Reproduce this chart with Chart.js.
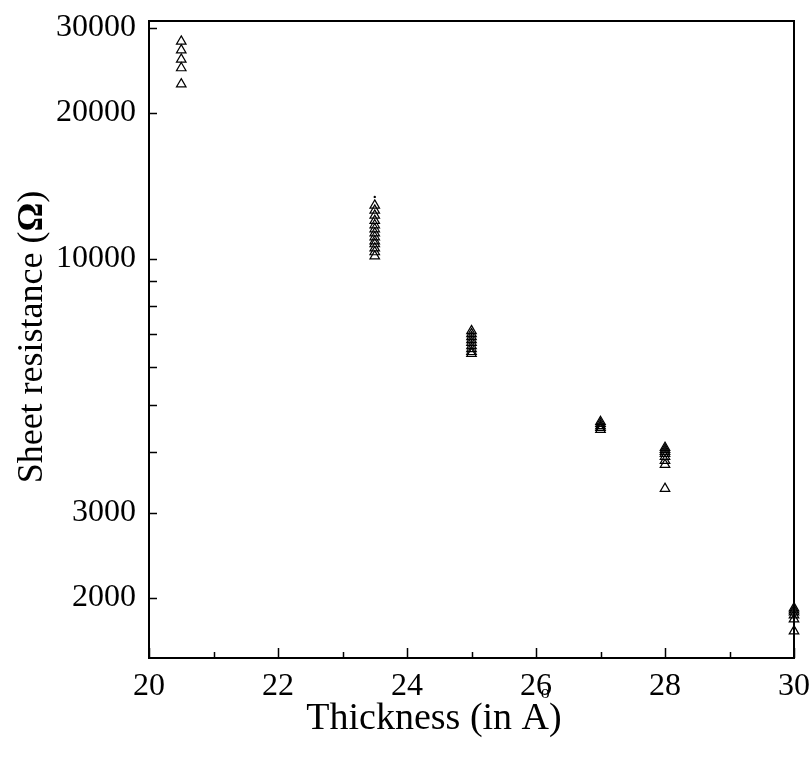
<!DOCTYPE html>
<html>
<head>
<meta charset="utf-8">
<script src="https://cdn.jsdelivr.net/npm/chart.js@4"></script>
<style>
html, body { margin: 0; padding: 0; background: #fff; }
</style>
</head>
<body>
<canvas id="chart" width="811" height="764"></canvas>
<script>
'use strict'

//두께 그룹 (A)
const thickness = [20.5, 23.5, 25, 27, 28, 30];
//두께별 면저항 측정값
const res205 = [28100, 26960, 25800, 24760, 22940];
const res235 = [12900, 12600, 12300, 12000, 11750, 11530, 11310, 11100, 10890, 10740, 10530, 10340, 10140];
const res25 = [7110, 7010, 6910, 6810, 6720, 6620, 6530, 6440, 6380];
const res27 = [4620, 4575, 4530, 4490, 4450];
const res28 = [4086, 4046, 4008, 3970, 3914, 3840, 3768, 3363];
const res30 = [1907, 1889, 1872, 1845, 1810, 1710];
//23.5 위의 점 하나
const dotX = [23.5];
const dotY = [13430];
//눈금
const xTicks = [20, 22, 24, 26, 28, 30];
const xMinor = [21, 23, 25, 27, 29];
const yTicks = [2000, 3000, 10000, 20000, 30000];
const yMinor = [4000, 5000, 6000, 7000, 8000, 9000];

const serif = '"Liberation Serif", "DejaVu Serif", serif';

// =====================================================================================================
const groups = [res205, res235, res25, res27, res28, res30];
let points = [];
groups.forEach((arr, i) => {
	arr.forEach((v) => {
		points.push({ x: thickness[i], y: v });
	});
});
let dots = dotX.map((x, i) => ({ x: x, y: dotY[i] }));

//테두리, 안쪽 눈금, 축 제목
const framePlugin = {
	id: 'frame',
	afterDraw(chart) {
		const ctx = chart.ctx;
		const a = chart.chartArea;
		const xs = chart.scales.x;
		const ys = chart.scales.y;
		ctx.save();
		ctx.strokeStyle = '#000';
		ctx.lineWidth = 1.5;
		ctx.beginPath();
		xTicks.forEach((v) => {
			const px = Math.round(xs.getPixelForValue(v)) + 0.5;
			ctx.moveTo(px, a.bottom);
			ctx.lineTo(px, a.bottom - 10);
		});
		xMinor.forEach((v) => {
			const px = Math.round(xs.getPixelForValue(v)) + 0.5;
			ctx.moveTo(px, a.bottom);
			ctx.lineTo(px, a.bottom - 6);
		});
		yTicks.concat(yMinor).forEach((v) => {
			const py = Math.round(ys.getPixelForValue(v)) + 0.5;
			ctx.moveTo(a.left, py);
			ctx.lineTo(a.left + 8, py);
		});
		ctx.stroke();
		ctx.lineWidth = 2;
		ctx.strokeRect(a.left, a.top, a.right - a.left, a.bottom - a.top);

		//x 제목
		ctx.fillStyle = '#000';
		ctx.font = '38px ' + serif;
		ctx.textBaseline = 'alphabetic';
		ctx.textAlign = 'left';
		const xTitle = 'Thickness (in A)';
		const w = ctx.measureText(xTitle).width;
		const x0 = 434 - w / 2;
		ctx.fillText(xTitle, x0, 729);
		const pre = ctx.measureText('Thickness (in ').width;
		const aw = ctx.measureText('A').width;
		ctx.font = '18px ' + serif;
		ctx.textAlign = 'center';
		ctx.fillText('o', x0 + pre + aw / 2 + 10, 698);

		//y 제목
		ctx.translate(42, 337);
		ctx.rotate(-Math.PI / 2);
		const p1 = 'Sheet resistance (';
		const p2 = '\u03A9';
		const p3 = ')';
		ctx.textAlign = 'left';
		ctx.font = '36px ' + serif;
		const w1 = ctx.measureText(p1).width;
		const w3 = ctx.measureText(p3).width;
		ctx.font = 'bold 36px ' + serif;
		const w2 = ctx.measureText(p2).width;
		let sx = -(w1 + w2 + w3) / 2;
		ctx.font = '36px ' + serif;
		ctx.fillText(p1, sx, 0);
		ctx.font = 'bold 36px ' + serif;
		ctx.fillText(p2, sx + w1, 0);
		ctx.font = '36px ' + serif;
		ctx.fillText(p3, sx + w1 + w2, 0);
		ctx.restore();
	}
};

new Chart(document.getElementById('chart'), {
	type: 'scatter',
	data: {
		datasets: [{
			data: points,
			pointStyle: 'triangle',
			pointRadius: 5.5,
			borderColor: '#000',
			backgroundColor: 'rgba(255,255,255,0)',
			borderWidth: 1.2
		}, {
			data: dots,
			pointStyle: 'circle',
			pointRadius: 1.2,
			borderColor: '#000',
			backgroundColor: '#000',
			borderWidth: 0
		}]
	},
	options: {
		responsive: false,
		animation: false,
		devicePixelRatio: 1,
		clip: false,
		layout: { padding: { left: 0, top: 21, right: 17, bottom: 0 } },
		plugins: {
			legend: { display: false },
			tooltip: { enabled: false }
		},
		scales: {
			x: {
				type: 'linear',
				min: 20,
				max: 30,
				afterBuildTicks: (scale) => { scale.ticks = xTicks.map((v) => ({ value: v })); },
				afterFit: (scale) => {
					scale.height = 106;
					scale.paddingLeft = 0;
					scale.paddingRight = 0;
				},
				grid: { display: false, drawTicks: false },
				border: { display: false },
				ticks: {
					color: '#000',
					font: { family: serif, size: 32 },
					padding: 9,
					maxRotation: 0
				}
			},
			y: {
				type: 'logarithmic',
				min: 1505,
				max: 30950,
				afterBuildTicks: (scale) => { scale.ticks = yTicks.map((v) => ({ value: v })); },
				afterFit: (scale) => {
					scale.width = 149;
					scale.paddingTop = 0;
					scale.paddingBottom = 0;
				},
				grid: { display: false, drawTicks: false },
				border: { display: false },
				ticks: {
					color: '#000',
					font: { family: serif, size: 32 },
					padding: 13,
					callback: (v) => String(v)
				}
			}
		}
	},
	plugins: [framePlugin]
});
</script>
</body>
</html>
